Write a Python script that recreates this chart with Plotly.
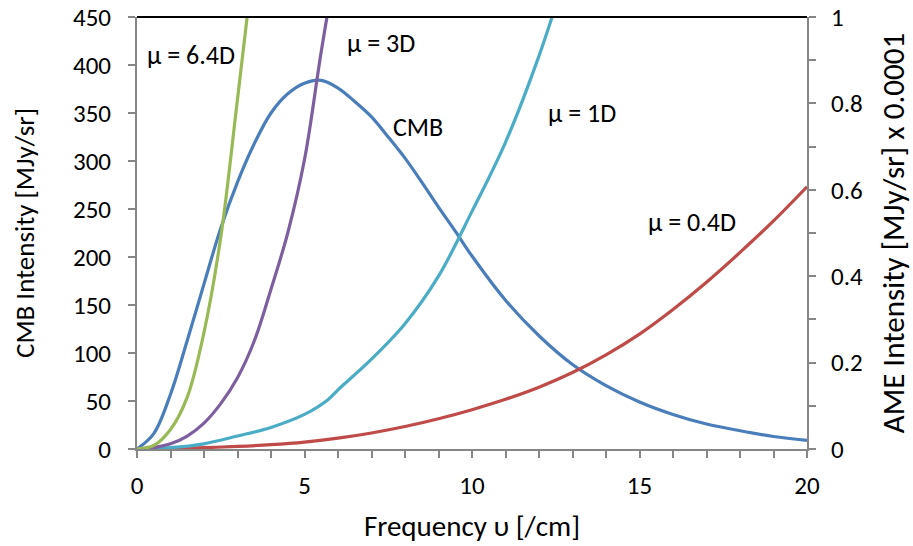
import plotly.graph_objects as go

# CMB intensity (left axis, MJy/sr)
cmb_x = [0, 0.5, 1, 1.5, 2, 2.5, 3, 3.5, 4, 4.5, 5, 5.5, 6, 6.5, 7, 7.5, 8, 8.5, 9, 9.5,
         10, 11, 12, 13, 14, 15, 16, 17, 18, 19, 20]
cmb_y = [0, 16, 57, 113, 172, 230, 278, 318, 350, 370, 381, 384, 376, 362, 346, 325, 303, 278, 252, 227,
         201, 155, 118, 88, 66, 49, 36, 26, 19, 13, 9]

# AME intensities (right axis, MJy/sr x 0.0001)
g_x = [0, 0.5, 1, 1.5, 2, 2.5, 3, 3.5]
g_y = [0, 0.008, 0.045, 0.12, 0.27, 0.49, 0.81, 1.14]          # mu = 6.4D

p_x = [0, 0.5, 1, 1.5, 2, 2.5, 3, 3.5, 4, 4.5, 5, 5.5, 6]
p_y = [0, 0.003, 0.012, 0.03, 0.06, 0.105, 0.165, 0.25, 0.37, 0.50, 0.67, 0.92, 1.15]  # mu = 3D

c_x = [0, 1, 2, 3, 4, 5, 5.7, 6, 7, 8, 9, 10, 11, 12, 13]
c_y = [0, 0.003, 0.012, 0.03, 0.05, 0.08, 0.114, 0.137, 0.208, 0.29, 0.40, 0.55, 0.71, 0.91, 1.15]  # mu = 1D

r_x = [0, 1, 2, 3, 4, 5, 6, 7, 8, 9, 10, 11, 12, 13, 14, 15, 16, 17, 18, 19, 20]
r_y = [0, 0.001, 0.003, 0.006, 0.010, 0.016, 0.025, 0.037, 0.052, 0.07, 0.091, 0.115, 0.143, 0.177,
       0.218, 0.266, 0.323, 0.386, 0.455, 0.528, 0.607]  # mu = 0.4D

labels = [("μ = 6.4D", 1.61, 410), ("μ = 3D", 7.28, 423), ("CMB", 8.39, 335),
          ("μ = 1D", 13.28, 350), ("μ = 0.4D", 16.57, 236)]

FONT = "Carlito, Calibri, Lato, sans-serif"
GRAY = "#868686"

fig = go.Figure()
line_kw = dict(mode="lines", line_shape="spline", showlegend=False, hoverinfo="skip")
fig.add_trace(go.Scatter(x=cmb_x, y=cmb_y, line=dict(color="#4A7EBB", width=3.2), yaxis="y", **line_kw))
fig.add_trace(go.Scatter(x=r_x, y=r_y, line=dict(color="#BE4B48", width=3.2), yaxis="y2", **line_kw))
fig.add_trace(go.Scatter(x=c_x, y=c_y, line=dict(color="#4BACC6", width=3.2), yaxis="y2", **line_kw))
fig.add_trace(go.Scatter(x=p_x, y=p_y, line=dict(color="#7D5FA0", width=3.2), yaxis="y2", **line_kw))
fig.add_trace(go.Scatter(x=g_x, y=g_y, line=dict(color="#98B954", width=3.2), yaxis="y2", **line_kw))

for t, x, y in labels:
    fig.add_annotation(x=x, y=y, xref="x", yref="y", text=t, showarrow=False,
                       font=dict(family=FONT, size=26, color="black"))

fig.add_shape(type="line", xref="paper", yref="paper", x0=0, x1=1, y0=1, y1=1,
              line=dict(color="black", width=2))

axis_common = dict(showgrid=False, zeroline=False, showline=True, linecolor=GRAY, linewidth=2,
                   ticks="outside", ticklen=7, tickwidth=1.5, tickcolor=GRAY, automargin=False,
                   tickfont=dict(family=FONT, size=25, color="black"))

fig.update_layout(
    width=913, height=546,
    margin=dict(l=137, r=106, t=17, b=97),
    paper_bgcolor="white", plot_bgcolor="white",
    xaxis=dict(range=[0, 20], dtick=5, tick0=0, ticklabelstandoff=6,
               minor=dict(dtick=1, ticks="outside", ticklen=7, tickcolor=GRAY, tickwidth=1.5),
               title=dict(text="Frequency υ [/cm]", font=dict(family=FONT, size=29, color="black"), standoff=16),
               **axis_common),
    yaxis=dict(range=[0, 450], dtick=50, tick0=0, ticklabelstandoff=12,
               title=dict(text="CMB Intensity [MJy/sr]", font=dict(family=FONT, size=27, color="black"), standoff=31),
               **axis_common),
    yaxis2=dict(range=[0, 1], dtick=0.2, tick0=0, overlaying="y", side="right", ticklabelstandoff=10,
                minor=dict(dtick=0.1, ticks="outside", ticklen=7, tickcolor=GRAY, tickwidth=1.5),
                title=dict(text="AME Intensity [MJy/sr] x 0.0001", font=dict(family=FONT, size=31, color="black"), standoff=20),
                **axis_common),
)

fig.write_html("out.html", config={"displayModeBar": False},
               post_script="document.body.style.margin='0';")
